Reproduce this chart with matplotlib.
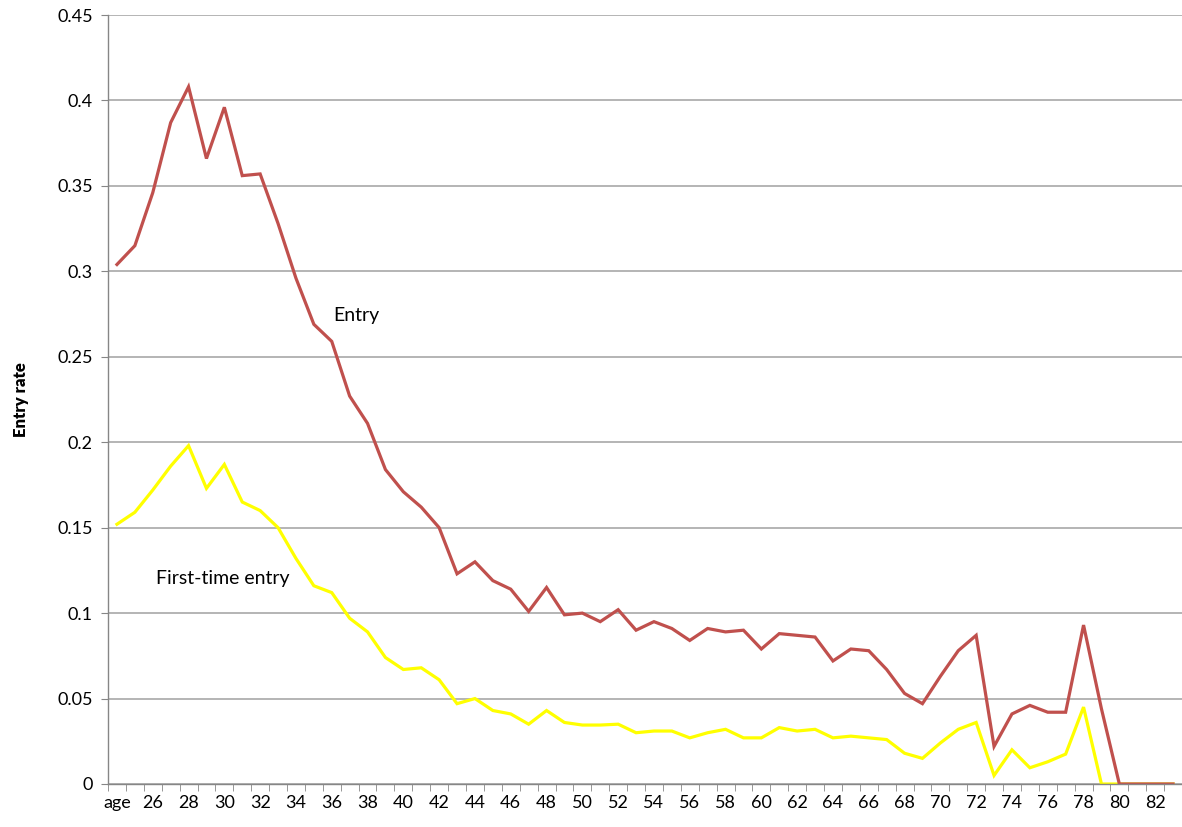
import numpy as np
import matplotlib.pyplot as plt

# Age categories (first row of the sheet is the "age" header)
ages = ['age'] + [str(a) for a in range(25, 84)]

entry = [0.304, 0.315, 0.346, 0.387, 0.408, 0.366, 0.396, 0.356, 0.357, 0.328,
         0.296, 0.269, 0.259, 0.227, 0.211, 0.184, 0.171, 0.162, 0.150, 0.123,
         0.130, 0.119, 0.114, 0.101, 0.115, 0.099, 0.100, 0.095, 0.102, 0.090,
         0.095, 0.091, 0.084, 0.091, 0.089, 0.090, 0.079, 0.088, 0.087, 0.086,
         0.072, 0.079, 0.078, 0.067, 0.053, 0.047, 0.063, 0.078, 0.087, 0.022,
         0.041, 0.046, 0.042, 0.042, 0.093, 0.044, 0.0, 0.0, 0.0, 0.0]

first_time = [0.152, 0.159, 0.172, 0.186, 0.198, 0.173, 0.187, 0.165, 0.160, 0.150,
              0.132, 0.116, 0.112, 0.097, 0.089, 0.074, 0.067, 0.068, 0.061, 0.047,
              0.050, 0.043, 0.041, 0.035, 0.043, 0.036, 0.0345, 0.0345, 0.035, 0.030,
              0.031, 0.031, 0.027, 0.030, 0.032, 0.027, 0.027, 0.033, 0.031, 0.032,
              0.027, 0.028, 0.027, 0.026, 0.018, 0.015, 0.024, 0.032, 0.036, 0.005,
              0.020, 0.0095, 0.013, 0.0175, 0.045, 0.0, 0.0, 0.0, 0.0, 0.0]

plt.rcParams['font.family'] = ['Lato', 'DejaVu Sans']

fig = plt.figure(figsize=(11.82, 8.27), dpi=100)
ax = fig.add_axes([108 / 1182, 1 - 784 / 827, 1 - 108 / 1182, (784 - 15) / 827])

x = np.arange(len(ages))
ax.plot(x, first_time, color='#FFFF00', linewidth=2.3, solid_joinstyle='miter')
ax.plot(x, entry, color='#C0504D', linewidth=2.3, solid_joinstyle='miter')

ax.set_xlim(-0.5, len(ages) - 0.5)
ax.set_ylim(0, 0.45)
ax.set_yticks(np.arange(0, 0.451, 0.05))
ax.set_yticklabels(['0', '0.05', '0.1', '0.15', '0.2', '0.25', '0.3', '0.35', '0.4', '0.45'])

# labels on every other category, tick marks between categories
ax.set_xticks(x[::2])
ax.set_xticklabels(ages[::2])
ax.tick_params(axis='x', which='major', length=0, pad=8)
ax.set_xticks(np.arange(-0.5, len(ages), 1.0), minor=True)
ax.tick_params(axis='x', which='minor', length=5, color='#868686', direction='out')
ax.tick_params(axis='y', length=5, color='#868686', pad=6)
ax.tick_params(labelsize=13)

ax.grid(axis='y', color='#B4B4B4', linewidth=1.4)
ax.set_axisbelow(True)
for side in ['top', 'right']:
    ax.spines[side].set_visible(False)
for side in ['left', 'bottom']:
    ax.spines[side].set_color('#868686')
    ax.spines[side].set_linewidth(1.0)

ax.set_ylabel('Entry rate', fontsize=12, fontweight='heavy', labelpad=20)

ax.text(13.4, 0.274, 'Entry', fontsize=14, ha='center', va='center')
ax.text(5.92, 0.120, 'First-time entry', fontsize=14, ha='center', va='center')

fig.savefig('out.png', dpi=100)
